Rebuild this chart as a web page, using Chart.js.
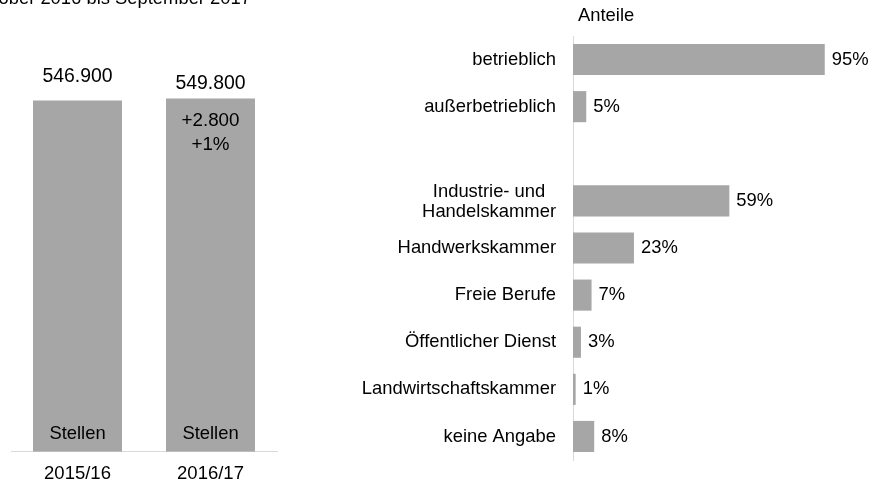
<!DOCTYPE html>
<html>
<head>
<meta charset="utf-8">
<script src="https://cdn.jsdelivr.net/npm/chart.js@4/dist/chart.umd.min.js"></script>
<style>
  html, body { margin: 0; padding: 0; background: #fff; overflow: hidden; width: 871px; height: 494px; }
  #left { position: absolute; left: 0; top: 0; }
  #right { position: absolute; left: 290px; top: 0; }
</style>
</head>
<body>
<canvas id="left" width="290" height="496"></canvas>
<canvas id="right" width="581" height="494"></canvas>
<script>
// ---- data ----
const titleText = "Oktober 2016 bis September 2017";
const years = ["2015/16", "2016/17"];
const positions = [546900, 549800];
const topLabels = ["546.900", "549.800"];
const innerLabels = [[], ["+2.800", "+1%"]];
const unitLabel = "Stellen";

const shareCategories = ["betrieblich", "außerbetrieblich", "", ["Industrie- und", "Handelskammer"],
  "Handwerkskammer", "Freie Berufe", "Öffentlicher Dienst", "Landwirtschaftskammer", "keine Angabe"];
const shareValues = [95, 5, null, 59, 23, 7, 3, 1, 8];
const shareTitle = "Anteile";

// ---- styles ----
const FONT = '"Liberation Sans", Arial, sans-serif';
const BAR = '#a6a6a6';
const AXIS = '#d9d9d9';
const TXT = '#000000';
const topLabelGap = [24, 15];
Chart.defaults.font.family = FONT;
Chart.defaults.font.size = 18.4;
Chart.defaults.color = TXT;

const leftPlugin = {
  id: 'leftLabels',
  afterDatasetsDraw(chart) {
    const ctx = chart.ctx;
    const meta = chart.getDatasetMeta(0);
    ctx.save();
    ctx.fillStyle = TXT;
    // title (cut off at top)
    ctx.font = '18.4px ' + FONT;
    ctx.textAlign = 'right';
    ctx.textBaseline = 'alphabetic';
    ctx.fillText(titleText, 251, 4);
    ctx.textAlign = 'center';
    ctx.textBaseline = 'middle';
    meta.data.forEach((bar, i) => {
      ctx.font = '19.4px ' + FONT;
      ctx.fillText(topLabels[i], bar.x, bar.y - topLabelGap[i]);
      ctx.font = '18.8px ' + FONT;
      innerLabels[i].forEach((t, j) => ctx.fillText(t, bar.x, bar.y + 22 + j * 24.6));
      ctx.font = '18.4px ' + FONT;
      ctx.fillText(unitLabel, bar.x, bar.base - 18);
    });
    ctx.restore();
  }
};

new Chart(document.getElementById('left'), {
  type: 'bar',
  data: {
    labels: years,
    datasets: [{ data: positions, backgroundColor: BAR, borderWidth: 0,
      barPercentage: 0.669, categoryPercentage: 1 }]
  },
  options: {
    responsive: false, animation: false,
    layout: { padding: { left: 11, right: 13, top: 20, bottom: 0 } },
    plugins: { legend: { display: false }, tooltip: { enabled: false } },
    scales: {
      x: {
        grid: { display: false, drawTicks: false },
        border: { display: true, color: AXIS, width: 1 },
        ticks: { padding: 11, color: TXT, font: { size: 18.5 } }
      },
      y: { display: false, min: 0, max: 672000 }
    }
  },
  plugins: [leftPlugin]
});

const rightPlugin = {
  id: 'rightLabels',
  afterDatasetsDraw(chart) {
    const ctx = chart.ctx;
    const y = chart.scales.y;
    const area = chart.chartArea;
    const meta = chart.getDatasetMeta(0);
    ctx.save();
    ctx.fillStyle = TXT;
    ctx.font = '18.4px ' + FONT;
    ctx.textBaseline = 'middle';
    // header
    ctx.textAlign = 'left';
    ctx.fillText(shareTitle, area.left + 5, 16);
    // category labels
    const rx = area.left - 17;
    shareCategories.forEach((lab, i) => {
      const cy = y.getPixelForValue(i);
      if (Array.isArray(lab)) {
        const w = Math.max(...lab.map(l => ctx.measureText(l).width));
        ctx.textAlign = 'center';
        const lh = 20.5;
        lab.forEach((l, j) => ctx.fillText(l, rx - w / 2, cy + (j - (lab.length - 1) / 2) * lh + 1));
      } else if (lab) {
        ctx.textAlign = 'right';
        ctx.fillText(lab, rx, cy);
      }
    });
    // value labels
    ctx.textAlign = 'left';
    meta.data.forEach((bar, i) => {
      if (shareValues[i] == null) return;
      ctx.fillText(shareValues[i] + '%', bar.x + 7, bar.y);
    });
    ctx.restore();
  }
};

new Chart(document.getElementById('right'), {
  type: 'bar',
  data: {
    labels: shareCategories,
    datasets: [{ data: shareValues, backgroundColor: BAR, borderWidth: 0,
      barPercentage: 0.66, categoryPercentage: 1 }]
  },
  options: {
    indexAxis: 'y',
    responsive: false, animation: false,
    layout: { padding: { left: 283, right: 33, top: 36, bottom: 34 } },
    plugins: { legend: { display: false }, tooltip: { enabled: false } },
    scales: {
      x: { display: false, min: 0, max: 100 },
      y: {
        display: true,
        grid: { display: false, drawTicks: false },
        border: { display: true, color: AXIS, width: 1 },
        ticks: { display: false }
      }
    }
  },
  plugins: [rightPlugin]
});
</script>
</body>
</html>
